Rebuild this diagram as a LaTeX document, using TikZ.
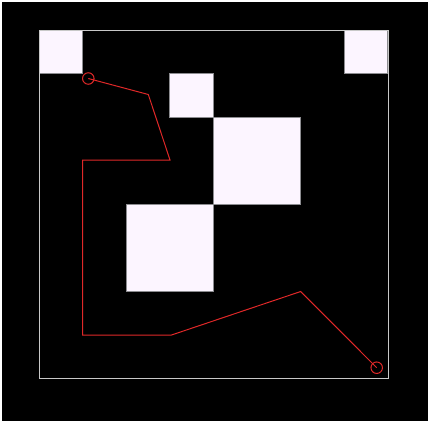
\documentclass[tikz,border=0pt]{standalone}
\usepackage{tikz}
\usetikzlibrary{calc}
\definecolor{obstaclefill}{HTML}{FCF5FF}
\definecolor{obstacleedge}{HTML}{8C8C90}
\definecolor{worldframe}{HTML}{C8C8C8}
\definecolor{routered}{HTML}{E02828}

\begin{document}
\begin{tikzpicture}[x=1pt,y=-1pt,
    obstacle/.style={fill=obstaclefill,draw=obstacleedge,line width=0.8pt},
    route/.style={routered,line width=1pt,line join=miter},
    endpt/.style={circle,draw=routered,line width=1pt,minimum size=11.5pt,inner sep=0pt}]
  \useasboundingbox (0,0) rectangle (430,423);
  \fill[white] (0,0) rectangle (430,423);
  \fill[black] (2,2) rectangle (428,421);
  % obstacles on an 8x8 grid, cell = 43.6
  \foreach \c/\r/\n in {0/0/1,7/0/1,3/1/1,4/2/2,2/4/2}{
    \filldraw[obstacle]
      (39+43.6*\c,30+43.5*\r) rectangle ++(43.6*\n,43.5*\n);
  }
  \draw[worldframe,line width=1pt] (39,30) rectangle (388,378);
  % way points of the planned route
  \coordinate (w0) at (88.3,78.5);
  \coordinate (w1) at (148.3,94.5);
  \coordinate (w2) at (170,160);
  \coordinate (w3) at (82.7,160);
  \coordinate (w4) at (82.7,335);
  \coordinate (w5) at (171.5,335);
  \coordinate (w6) at (300.7,291.5);
  \coordinate (w7) at (376.7,367.7);
  \draw[route] (w0)--(w1)--(w2)--(w3)--(w4)--(w5)--(w6)--(w7);
  \node[endpt] (start) at (w0) {};
  \node[endpt] (goal) at (w7) {};
\end{tikzpicture}
\end{document}
